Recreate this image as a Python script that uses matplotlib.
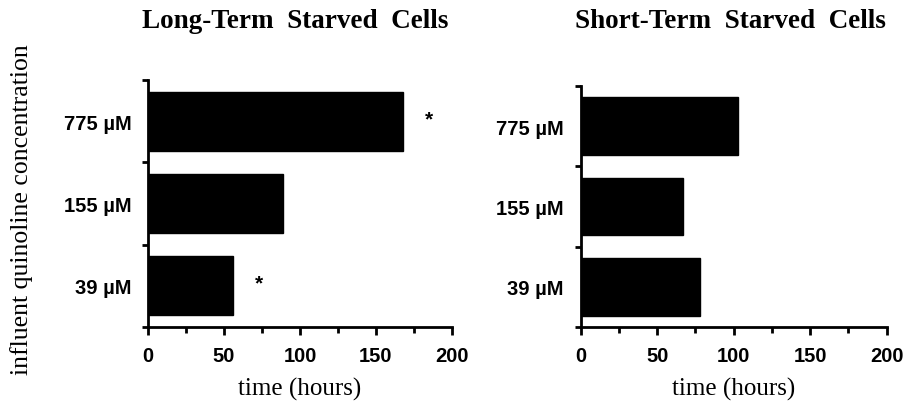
import matplotlib
matplotlib.use("Agg")
import matplotlib.pyplot as plt
import numpy as np

categories = ["39 µM", "155 µM", "775 µM"]
long_term = [56, 89, 168]
short_term = [78, 67, 103]
long_star = [True, False, True]
short_star = [False, False, False]
xticks = [0, 50, 100, 150, 200]
titles = ["Long-Term  Starved  Cells", "Short-Term  Starved  Cells"]

fig = plt.figure(figsize=(9.07, 4.02), dpi=100)
ax1 = fig.add_axes([0.1632, 0.1841, 0.3351, 0.6144])
ax2 = fig.add_axes([0.6402, 0.1841, 0.3374, 0.5995])

serif = ["Liberation Serif", "DejaVu Serif"]
sans = ["Liberation Sans", "DejaVu Sans"]

for ax, vals, stars in [(ax1, long_term, long_star), (ax2, short_term, short_star)]:
    y = np.arange(len(categories)) + 0.5
    ax.barh(y, vals, height=0.72, color="black", edgecolor="black")
    for yi, v, s in zip(y, vals, stars):
        if s:
            ax.text(v + 17, yi + 0.03, "*", ha="center", va="center",
                    fontsize=15, fontweight="bold", family=sans)
    ax.set_xlim(0, 200)
    ax.set_ylim(0, 3)
    ax.set_xticks(xticks)
    ax.set_xticks([25, 75, 125, 175], minor=True)
    ax.set_xticklabels([str(t) for t in xticks], fontsize=14.5,
                       fontweight="bold", family=sans)
    ax.set_yticks([0, 1, 2, 3])
    ax.set_yticklabels([])
    ax.set_yticks(y, minor=True)
    ax.set_yticklabels(categories, minor=True, fontsize=14.5,
                       fontweight="bold", family=sans)
    ax.tick_params(axis="y", which="minor", length=0, pad=12)
    ax.tick_params(axis="y", which="major", length=4, width=2, direction="out")
    ax.tick_params(axis="x", which="major", length=6, width=2, direction="out", pad=8)
    ax.tick_params(axis="x", which="minor", length=4, width=2, direction="out")
    for side in ["top", "right"]:
        ax.spines[side].set_visible(False)
    for side in ["left", "bottom"]:
        ax.spines[side].set_linewidth(2)
    ax.set_xlabel("time (hours)", fontsize=18, family=serif, labelpad=8)

fig.text(0.5 * (138 + 452) / 907, 1 - 22 / 402, titles[0], ha="center",
         va="center", fontsize=19.5, fontweight="bold", family=serif)
fig.text(0.5 * (570 + 890) / 907, 1 - 22 / 402, titles[1], ha="center",
         va="center", fontsize=19.5, fontweight="bold", family=serif)

fig.text(22 / 907, 0.5 * (1 - 40 / 402 + 1 - 380 / 402),
         "influent quinoline concentration", rotation=90, ha="center",
         va="center", fontsize=18.5, family=serif)

fig.savefig("out.png", dpi=100)
